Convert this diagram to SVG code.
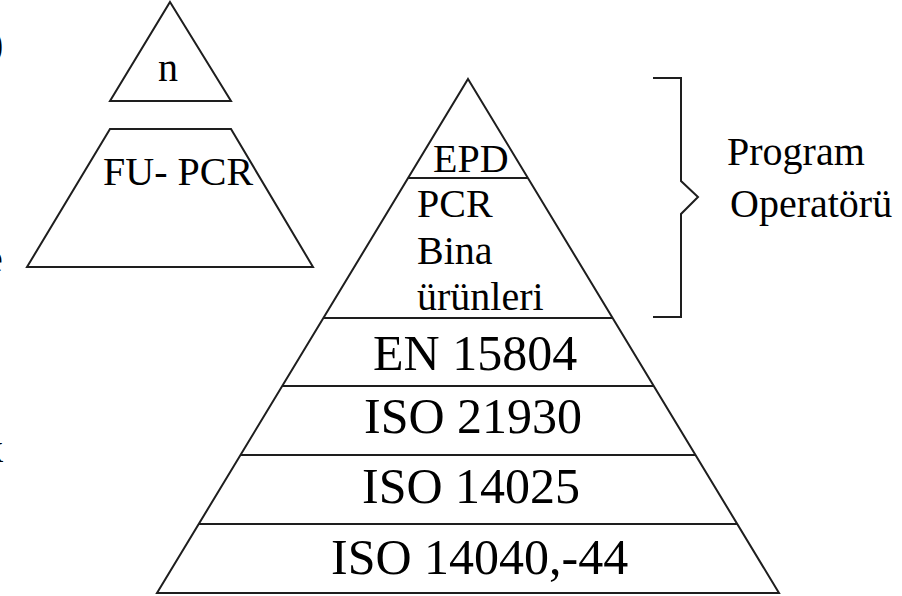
<svg xmlns="http://www.w3.org/2000/svg" width="902" height="596" viewBox="0 0 902 596">
  <style>
    .shape { fill: none; stroke: #1e1e1e; stroke-width: 2; stroke-linejoin: miter; }
    .rule { stroke: #1e1e1e; stroke-width: 2.2; }
    .lbl { font-family: "Liberation Serif", "Times New Roman", serif; fill: #000; }
    .sm { font-size: 40px; }
    .lg { font-size: 50px; }
  </style>
  <rect width="902" height="596" fill="#fff"/>

  <!-- glyphs running in from the left margin -->
  <g id="margin-text" class="lbl sm">
    <text x="-10" y="57">)</text>
    <text x="-15" y="272">e</text>
    <text x="-17" y="462">k</text>
  </g>

  <!-- small triangle: n -->
  <g id="node-n">
    <polygon class="shape" points="170,2 231,101 110,101"/>
    <text class="lbl sm" x="158" y="81">n</text>
  </g>

  <!-- trapezoid: FU- PCR -->
  <g id="node-fu-pcr">
    <polygon class="shape" points="110,129 231,129 313,267 27,267"/>
    <text class="lbl sm" x="103" y="185">FU- PCR</text>
  </g>

  <!-- main pyramid outline -->
  <g id="pyramid">
    <polygon class="shape" points="468,79 779,593 157,593"/>
  </g>

  <!-- layer dividers -->
  <g id="connectors">
    <line class="rule" x1="408" y1="178" x2="528" y2="178"/>
    <line class="rule" x1="323" y1="318" x2="613" y2="318"/>
    <line class="rule" x1="282" y1="386" x2="654" y2="386"/>
    <line class="rule" x1="241" y1="455" x2="695" y2="455"/>
    <line class="rule" x1="199" y1="524" x2="737" y2="524"/>
    <!-- brace -->
    <polyline class="shape" points="653,78 681,78 681,181 698,197 681,214 681,317 653,317"/>
  </g>

  <g id="layer-epd">
    <text class="lbl sm" x="433" y="172">EPD</text>
  </g>
  <g id="layer-pcr">
    <text class="lbl sm" x="417" y="217">PCR</text>
    <text class="lbl sm" x="417" y="264">Bina</text>
    <text class="lbl sm" x="417" y="310">ürünleri</text>
  </g>
  <g id="layer-en15804">
    <text class="lbl lg" x="373" y="370">EN 15804</text>
  </g>
  <g id="layer-iso21930">
    <text class="lbl lg" x="364" y="433">ISO 21930</text>
  </g>
  <g id="layer-iso14025">
    <text class="lbl lg" x="362" y="503">ISO 14025</text>
  </g>
  <g id="layer-iso14040">
    <text class="lbl lg" x="331" y="574">ISO 14040,-44</text>
  </g>

  <g id="program-operator">
    <text class="lbl sm" x="727" y="165">Program</text>
    <text class="lbl sm" x="730" y="217">Operatörü</text>
  </g>
</svg>
